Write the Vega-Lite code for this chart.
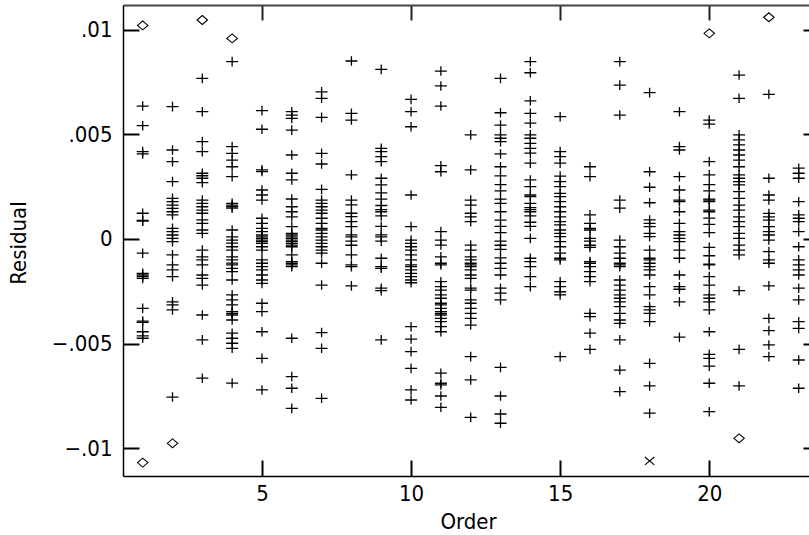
{
  "$schema": "https://vega.github.io/schema/vega-lite/v6.json",
  "width": 686,
  "height": 471,
  "autosize": {"type": "none"},
  "padding": {"left": 123, "top": 5, "right": 0, "bottom": 59},
  "background": "white",
  "config": {
    "view": {"stroke": null},
    "font": "Liberation Sans Narrow, DejaVu Sans Condensed, Arial Narrow, sans-serif"
  },
  "datasets": {
    "plus": [
      {"order":1,"residual":0.00635},{"order":1,"residual":0.00541},{"order":1,"residual":0.00417},{"order":1,"residual":0.00406},{"order":1,"residual":0.00123},{"order":1,"residual":0.00089},{"order":1,"residual":0.00085},{"order":1,"residual":-0.00068},{"order":1,"residual":-0.00164},{"order":1,"residual":-0.00172},{"order":1,"residual":-0.0018},{"order":1,"residual":-0.00188},{"order":1,"residual":-0.00331},{"order":1,"residual":-0.00392},{"order":1,"residual":-0.00398},{"order":1,"residual":-0.00443},{"order":1,"residual":-0.00463},{"order":1,"residual":-0.00474},
      {"order":2,"residual":0.00632},{"order":2,"residual":0.00425},{"order":2,"residual":0.00369},{"order":2,"residual":0.00274},{"order":2,"residual":0.00194},{"order":2,"residual":0.00178},{"order":2,"residual":0.00162},{"order":2,"residual":0.00146},{"order":2,"residual":0.0013},{"order":2,"residual":0.00115},{"order":2,"residual":0.00051},{"order":2,"residual":0.00035},{"order":2,"residual":0.00019},{"order":2,"residual":0.00003},{"order":2,"residual":-0.00013},{"order":2,"residual":-0.00076},{"order":2,"residual":-0.00124},{"order":2,"residual":-0.00148},{"order":2,"residual":-0.0018},{"order":2,"residual":-0.003},{"order":2,"residual":-0.00315},{"order":2,"residual":-0.00339},{"order":2,"residual":-0.00755},
      {"order":3,"residual":0.00767},{"order":3,"residual":0.00608},{"order":3,"residual":0.00465},{"order":3,"residual":0.00417},{"order":3,"residual":0.00314},{"order":3,"residual":0.00302},{"order":3,"residual":0.0029},{"order":3,"residual":0.00269},{"order":3,"residual":0.00186},{"order":3,"residual":0.0017},{"order":3,"residual":0.00154},{"order":3,"residual":0.00138},{"order":3,"residual":0.00123},{"order":3,"residual":0.00091},{"order":3,"residual":0.00075},{"order":3,"residual":0.00043},{"order":3,"residual":0.00027},{"order":3,"residual":-0.00053},{"order":3,"residual":-0.00085},{"order":3,"residual":-0.001},{"order":3,"residual":-0.00124},{"order":3,"residual":-0.00172},{"order":3,"residual":-0.00188},{"order":3,"residual":-0.0022},{"order":3,"residual":-0.00363},{"order":3,"residual":-0.00482},{"order":3,"residual":-0.00665},
      {"order":4,"residual":0.00847},{"order":4,"residual":0.00441},{"order":4,"residual":0.00409},{"order":4,"residual":0.00377},{"order":4,"residual":0.00345},{"order":4,"residual":0.00298},{"order":4,"residual":0.0017},{"order":4,"residual":0.00162},{"order":4,"residual":0.00154},{"order":4,"residual":0.00147},{"order":4,"residual":0.00043},{"order":4,"residual":0.0001},{"order":4,"residual":-0.00005},{"order":4,"residual":-0.0002},{"order":4,"residual":-0.00037},{"order":4,"residual":-0.00053},{"order":4,"residual":-0.00085},{"order":4,"residual":-0.001},{"order":4,"residual":-0.00115},{"order":4,"residual":-0.00124},{"order":4,"residual":-0.0014},{"order":4,"residual":-0.00156},{"order":4,"residual":-0.00196},{"order":4,"residual":-0.00267},{"order":4,"residual":-0.00291},{"order":4,"residual":-0.00315},{"order":4,"residual":-0.00347},{"order":4,"residual":-0.00355},{"order":4,"residual":-0.00363},{"order":4,"residual":-0.00387},{"order":4,"residual":-0.0045},{"order":4,"residual":-0.00474},{"order":4,"residual":-0.00498},{"order":4,"residual":-0.00522},{"order":4,"residual":-0.00688},
      {"order":5,"residual":0.00613},{"order":5,"residual":0.00524},{"order":5,"residual":0.0033},{"order":5,"residual":0.00322},{"order":5,"residual":0.00234},{"order":5,"residual":0.0021},{"order":5,"residual":0.00186},{"order":5,"residual":0.00099},{"order":5,"residual":0.00075},{"order":5,"residual":0.00051},{"order":5,"residual":0.00035},{"order":5,"residual":0.00019},{"order":5,"residual":0.0001},{"order":5,"residual":0.00003},{"order":5,"residual":-0.00005},{"order":5,"residual":-0.00013},{"order":5,"residual":-0.00021},{"order":5,"residual":-0.00037},{"order":5,"residual":-0.00053},{"order":5,"residual":-0.001},{"order":5,"residual":-0.00116},{"order":5,"residual":-0.00132},{"order":5,"residual":-0.00148},{"order":5,"residual":-0.00172},{"order":5,"residual":-0.00196},{"order":5,"residual":-0.00212},{"order":5,"residual":-0.00307},{"order":5,"residual":-0.00347},{"order":5,"residual":-0.00443},{"order":5,"residual":-0.0057},{"order":5,"residual":-0.00721},
      {"order":6,"residual":0.00608},{"order":6,"residual":0.00592},{"order":6,"residual":0.00576},{"order":6,"residual":0.0052},{"order":6,"residual":0.00401},{"order":6,"residual":0.00314},{"order":6,"residual":0.00282},{"order":6,"residual":0.00191},{"order":6,"residual":0.00154},{"order":6,"residual":0.0013},{"order":6,"residual":0.00106},{"order":6,"residual":0.00059},{"order":6,"residual":0.00027},{"order":6,"residual":0.00019},{"order":6,"residual":0.0001},{"order":6,"residual":0.00003},{"order":6,"residual":-0.00005},{"order":6,"residual":-0.00013},{"order":6,"residual":-0.00021},{"order":6,"residual":-0.00029},{"order":6,"residual":-0.00037},{"order":6,"residual":-0.00076},{"order":6,"residual":-0.00108},{"order":6,"residual":-0.00116},{"order":6,"residual":-0.00124},{"order":6,"residual":-0.00132},{"order":6,"residual":-0.00474},{"order":6,"residual":-0.00657},{"order":6,"residual":-0.00713},{"order":6,"residual":-0.00809},
      {"order":7,"residual":0.00703},{"order":7,"residual":0.00672},{"order":7,"residual":0.00581},{"order":7,"residual":0.00409},{"order":7,"residual":0.00358},{"order":7,"residual":0.00237},{"order":7,"residual":0.00186},{"order":7,"residual":0.0017},{"order":7,"residual":0.00154},{"order":7,"residual":0.00138},{"order":7,"residual":0.00123},{"order":7,"residual":0.00099},{"order":7,"residual":0.00075},{"order":7,"residual":0.00051},{"order":7,"residual":0.00043},{"order":7,"residual":0.00027},{"order":7,"residual":0.0001},{"order":7,"residual":-0.00005},{"order":7,"residual":-0.00021},{"order":7,"residual":-0.00037},{"order":7,"residual":-0.00053},{"order":7,"residual":-0.00068},{"order":7,"residual":-0.00116},{"order":7,"residual":-0.0022},{"order":7,"residual":-0.00447},{"order":7,"residual":-0.00522},{"order":7,"residual":-0.00761},
      {"order":8,"residual":0.0085},{"order":8,"residual":0.006},{"order":8,"residual":0.00568},{"order":8,"residual":0.00306},{"order":8,"residual":0.00186},{"order":8,"residual":0.00163},{"order":8,"residual":0.00123},{"order":8,"residual":0.00107},{"order":8,"residual":0.00083},{"order":8,"residual":0.00059},{"order":8,"residual":0.0002},{"order":8,"residual":0.0001},{"order":8,"residual":-0.0001},{"order":8,"residual":-0.0003},{"order":8,"residual":-0.00076},{"order":8,"residual":-0.00124},{"order":8,"residual":-0.00132},{"order":8,"residual":-0.00224},
      {"order":9,"residual":0.0081},{"order":9,"residual":0.00433},{"order":9,"residual":0.00417},{"order":9,"residual":0.00393},{"order":9,"residual":0.00369},{"order":9,"residual":0.0029},{"order":9,"residual":0.00258},{"order":9,"residual":0.0022},{"order":9,"residual":0.0019},{"order":9,"residual":0.0016},{"order":9,"residual":0.0014},{"order":9,"residual":0.0013},{"order":9,"residual":0.0011},{"order":9,"residual":0.0006},{"order":9,"residual":0.0002},{"order":9,"residual":0.0001},{"order":9,"residual":-0.0001},{"order":9,"residual":-0.00092},{"order":9,"residual":-0.00132},{"order":9,"residual":-0.0014},{"order":9,"residual":-0.00235},{"order":9,"residual":-0.00247},{"order":9,"residual":-0.00482},
      {"order":10,"residual":0.00667},{"order":10,"residual":0.00608},{"order":10,"residual":0.00536},{"order":10,"residual":0.0021},{"order":10,"residual":0.00059},{"order":10,"residual":-0.00005},{"order":10,"residual":-0.00021},{"order":10,"residual":-0.00037},{"order":10,"residual":-0.00053},{"order":10,"residual":-0.00076},{"order":10,"residual":-0.001},{"order":10,"residual":-0.00124},{"order":10,"residual":-0.00132},{"order":10,"residual":-0.00148},{"order":10,"residual":-0.00164},{"order":10,"residual":-0.0018},{"order":10,"residual":-0.00196},{"order":10,"residual":-0.00209},{"order":10,"residual":-0.00419},{"order":10,"residual":-0.00478},{"order":10,"residual":-0.00538},{"order":10,"residual":-0.00618},{"order":10,"residual":-0.00721},{"order":10,"residual":-0.00769},
      {"order":11,"residual":0.00802},{"order":11,"residual":0.00731},{"order":11,"residual":0.00635},{"order":11,"residual":0.0035},{"order":11,"residual":0.00321},{"order":11,"residual":0.00035},{"order":11,"residual":-0.00005},{"order":11,"residual":-0.00029},{"order":11,"residual":-0.00085},{"order":11,"residual":-0.00116},{"order":11,"residual":-0.00124},{"order":11,"residual":-0.00204},{"order":11,"residual":-0.00228},{"order":11,"residual":-0.00244},{"order":11,"residual":-0.00267},{"order":11,"residual":-0.00283},{"order":11,"residual":-0.00307},{"order":11,"residual":-0.00315},{"order":11,"residual":-0.00331},{"order":11,"residual":-0.00347},{"order":11,"residual":-0.00355},{"order":11,"residual":-0.00363},{"order":11,"residual":-0.00379},{"order":11,"residual":-0.00395},{"order":11,"residual":-0.00419},{"order":11,"residual":-0.00443},{"order":11,"residual":-0.00641},{"order":11,"residual":-0.00689},{"order":11,"residual":-0.00697},{"order":11,"residual":-0.0075},{"order":11,"residual":-0.00804},
      {"order":12,"residual":0.00497},{"order":12,"residual":0.0033},{"order":12,"residual":0.00186},{"order":12,"residual":0.00162},{"order":12,"residual":0.00123},{"order":12,"residual":0.00106},{"order":12,"residual":0.00083},{"order":12,"residual":-0.00029},{"order":12,"residual":-0.00053},{"order":12,"residual":-0.00085},{"order":12,"residual":-0.001},{"order":12,"residual":-0.00116},{"order":12,"residual":-0.00124},{"order":12,"residual":-0.00132},{"order":12,"residual":-0.00148},{"order":12,"residual":-0.00172},{"order":12,"residual":-0.00188},{"order":12,"residual":-0.00235},{"order":12,"residual":-0.00244},{"order":12,"residual":-0.00291},{"order":12,"residual":-0.00307},{"order":12,"residual":-0.00331},{"order":12,"residual":-0.00355},{"order":12,"residual":-0.00379},{"order":12,"residual":-0.00411},{"order":12,"residual":-0.00562},{"order":12,"residual":-0.00673},{"order":12,"residual":-0.00852},
      {"order":13,"residual":0.00767},{"order":13,"residual":0.00603},{"order":13,"residual":0.00544},{"order":13,"residual":0.00497},{"order":13,"residual":0.00481},{"order":13,"residual":0.00465},{"order":13,"residual":0.00406},{"order":13,"residual":0.00345},{"order":13,"residual":0.00301},{"order":13,"residual":0.0026},{"order":13,"residual":0.0023},{"order":13,"residual":0.0019},{"order":13,"residual":0.0017},{"order":13,"residual":0.0013},{"order":13,"residual":0.0009},{"order":13,"residual":0.0006},{"order":13,"residual":0.0003},{"order":13,"residual":-0.0001},{"order":13,"residual":-0.0003},{"order":13,"residual":-0.0005},{"order":13,"residual":-0.0009},{"order":13,"residual":-0.00116},{"order":13,"residual":-0.0014},{"order":13,"residual":-0.00172},{"order":13,"residual":-0.00235},{"order":13,"residual":-0.00259},{"order":13,"residual":-0.00291},{"order":13,"residual":-0.00613},{"order":13,"residual":-0.0075},{"order":13,"residual":-0.00836},{"order":13,"residual":-0.0088},
      {"order":14,"residual":0.00847},{"order":14,"residual":0.00794},{"order":14,"residual":0.0066},{"order":14,"residual":0.006},{"order":14,"residual":0.00553},{"order":14,"residual":0.00497},{"order":14,"residual":0.00481},{"order":14,"residual":0.00457},{"order":14,"residual":0.00433},{"order":14,"residual":0.0041},{"order":14,"residual":0.00362},{"order":14,"residual":0.00282},{"order":14,"residual":0.0025},{"order":14,"residual":0.0021},{"order":14,"residual":0.00202},{"order":14,"residual":0.0017},{"order":14,"residual":0.0015},{"order":14,"residual":0.0014},{"order":14,"residual":0.0013},{"order":14,"residual":0.0011},{"order":14,"residual":0.0008},{"order":14,"residual":0.0006},{"order":14,"residual":0.00003},{"order":14,"residual":-0.00092},{"order":14,"residual":-0.00108},{"order":14,"residual":-0.00132},{"order":14,"residual":-0.0018},{"order":14,"residual":-0.00228},
      {"order":15,"residual":0.00584},{"order":15,"residual":0.00417},{"order":15,"residual":0.00393},{"order":15,"residual":0.00362},{"order":15,"residual":0.003},{"order":15,"residual":0.00274},{"order":15,"residual":0.0025},{"order":15,"residual":0.00218},{"order":15,"residual":0.00202},{"order":15,"residual":0.00178},{"order":15,"residual":0.00154},{"order":15,"residual":0.0013},{"order":15,"residual":0.00106},{"order":15,"residual":0.00083},{"order":15,"residual":0.00067},{"order":15,"residual":0.00043},{"order":15,"residual":0.00027},{"order":15,"residual":0.00011},{"order":15,"residual":-0.00013},{"order":15,"residual":-0.00037},{"order":15,"residual":-0.00068},{"order":15,"residual":-0.00092},{"order":15,"residual":-0.001},{"order":15,"residual":-0.00204},{"order":15,"residual":-0.00228},{"order":15,"residual":-0.00252},{"order":15,"residual":-0.00267},{"order":15,"residual":-0.00562},
      {"order":16,"residual":0.00345},{"order":16,"residual":0.00298},{"order":16,"residual":0.00115},{"order":16,"residual":0.00075},{"order":16,"residual":0.00051},{"order":16,"residual":0.00043},{"order":16,"residual":0.00003},{"order":16,"residual":-0.0001},{"order":16,"residual":-0.0003},{"order":16,"residual":-0.0004},{"order":16,"residual":-0.00108},{"order":16,"residual":-0.00116},{"order":16,"residual":-0.00132},{"order":16,"residual":-0.00156},{"order":16,"residual":-0.0018},{"order":16,"residual":-0.00204},{"order":16,"residual":-0.00355},{"order":16,"residual":-0.00371},{"order":16,"residual":-0.0045},{"order":16,"residual":-0.00527},
      {"order":17,"residual":0.00847},{"order":17,"residual":0.00735},{"order":17,"residual":0.00592},{"order":17,"residual":0.00186},{"order":17,"residual":0.00147},{"order":17,"residual":-0.00005},{"order":17,"residual":-0.00037},{"order":17,"residual":-0.00068},{"order":17,"residual":-0.00092},{"order":17,"residual":-0.00116},{"order":17,"residual":-0.00124},{"order":17,"residual":-0.00132},{"order":17,"residual":-0.00196},{"order":17,"residual":-0.0022},{"order":17,"residual":-0.00244},{"order":17,"residual":-0.00267},{"order":17,"residual":-0.00283},{"order":17,"residual":-0.003},{"order":17,"residual":-0.00323},{"order":17,"residual":-0.00355},{"order":17,"residual":-0.00387},{"order":17,"residual":-0.00403},{"order":17,"residual":-0.00482},{"order":17,"residual":-0.00626},{"order":17,"residual":-0.00729},
      {"order":18,"residual":0.00699},{"order":18,"residual":0.00321},{"order":18,"residual":0.00247},{"order":18,"residual":0.00173},{"order":18,"residual":0.00091},{"order":18,"residual":0.00075},{"order":18,"residual":0.00059},{"order":18,"residual":0.00027},{"order":18,"residual":0.00011},{"order":18,"residual":-0.00053},{"order":18,"residual":-0.00092},{"order":18,"residual":-0.001},{"order":18,"residual":-0.00116},{"order":18,"residual":-0.00132},{"order":18,"residual":-0.00148},{"order":18,"residual":-0.00172},{"order":18,"residual":-0.00228},{"order":18,"residual":-0.00267},{"order":18,"residual":-0.00323},{"order":18,"residual":-0.00339},{"order":18,"residual":-0.00355},{"order":18,"residual":-0.00395},{"order":18,"residual":-0.00594},{"order":18,"residual":-0.00702},{"order":18,"residual":-0.00832},
      {"order":19,"residual":0.00608},{"order":19,"residual":0.00441},{"order":19,"residual":0.00425},{"order":19,"residual":0.00298},{"order":19,"residual":0.00234},{"order":19,"residual":0.00186},{"order":19,"residual":0.00178},{"order":19,"residual":0.0013},{"order":19,"residual":0.00075},{"order":19,"residual":0.00035},{"order":19,"residual":0.00019},{"order":19,"residual":0.00003},{"order":19,"residual":-0.00013},{"order":19,"residual":-0.00053},{"order":19,"residual":-0.00092},{"order":19,"residual":-0.00172},{"order":19,"residual":-0.00228},{"order":19,"residual":-0.0024},{"order":19,"residual":-0.003},{"order":19,"residual":-0.00469},
      {"order":20,"residual":0.00568},{"order":20,"residual":0.00549},{"order":20,"residual":0.00369},{"order":20,"residual":0.00306},{"order":20,"residual":0.0026},{"order":20,"residual":0.0023},{"order":20,"residual":0.0019},{"order":20,"residual":0.00186},{"order":20,"residual":0.00178},{"order":20,"residual":0.00138},{"order":20,"residual":0.0013},{"order":20,"residual":0.001},{"order":20,"residual":0.0007},{"order":20,"residual":0.0003},{"order":20,"residual":-0.0004},{"order":20,"residual":-0.0008},{"order":20,"residual":-0.0012},{"order":20,"residual":-0.00124},{"order":20,"residual":-0.0018},{"order":20,"residual":-0.0022},{"order":20,"residual":-0.00267},{"order":20,"residual":-0.00283},{"order":20,"residual":-0.003},{"order":20,"residual":-0.00339},{"order":20,"residual":-0.00443},{"order":20,"residual":-0.00551},{"order":20,"residual":-0.0057},{"order":20,"residual":-0.00607},{"order":20,"residual":-0.00689},{"order":20,"residual":-0.00825},
      {"order":21,"residual":0.00783},{"order":21,"residual":0.00672},{"order":21,"residual":0.00497},{"order":21,"residual":0.00473},{"order":21,"residual":0.00449},{"order":21,"residual":0.00425},{"order":21,"residual":0.00401},{"order":21,"residual":0.00377},{"order":21,"residual":0.00345},{"order":21,"residual":0.00306},{"order":21,"residual":0.0029},{"order":21,"residual":0.00274},{"order":21,"residual":0.00258},{"order":21,"residual":0.00226},{"order":21,"residual":0.00194},{"order":21,"residual":0.00162},{"order":21,"residual":0.00138},{"order":21,"residual":0.00106},{"order":21,"residual":0.00083},{"order":21,"residual":0.00059},{"order":21,"residual":0.00027},{"order":21,"residual":0.00003},{"order":21,"residual":-0.00029},{"order":21,"residual":-0.00053},{"order":21,"residual":-0.00076},{"order":21,"residual":-0.00247},{"order":21,"residual":-0.00527},{"order":21,"residual":-0.00702},
      {"order":22,"residual":0.00691},{"order":22,"residual":0.0029},{"order":22,"residual":0.0021},{"order":22,"residual":0.00186},{"order":22,"residual":0.00122},{"order":22,"residual":0.00106},{"order":22,"residual":0.0009},{"order":22,"residual":0.00059},{"order":22,"residual":0.00035},{"order":22,"residual":0.00019},{"order":22,"residual":-0.00005},{"order":22,"residual":-0.0006},{"order":22,"residual":-0.001},{"order":22,"residual":-0.00116},{"order":22,"residual":-0.00224},{"order":22,"residual":-0.00379},{"order":22,"residual":-0.00438},{"order":22,"residual":-0.00506},{"order":22,"residual":-0.00562},
      {"order":23,"residual":0.00338},{"order":23,"residual":0.00314},{"order":23,"residual":0.0029},{"order":23,"residual":0.00178},{"order":23,"residual":0.00115},{"order":23,"residual":0.00099},{"order":23,"residual":0.00083},{"order":23,"residual":0.00035},{"order":23,"residual":-0.00037},{"order":23,"residual":-0.001},{"order":23,"residual":-0.00124},{"order":23,"residual":-0.00148},{"order":23,"residual":-0.00172},{"order":23,"residual":-0.00235},{"order":23,"residual":-0.00291},{"order":23,"residual":-0.00395},{"order":23,"residual":-0.00427},{"order":23,"residual":-0.00578},{"order":23,"residual":-0.00713}
    ],
    "special": [
      {"order":1,"residual":0.0102,"kind":"diamond"},
      {"order":1,"residual":-0.01068,"kind":"diamond"},
      {"order":2,"residual":-0.00976,"kind":"diamond"},
      {"order":3,"residual":0.01046,"kind":"diamond"},
      {"order":4,"residual":0.00958,"kind":"diamond"},
      {"order":20,"residual":0.00982,"kind":"diamond"},
      {"order":21,"residual":-0.00952,"kind":"diamond"},
      {"order":22,"residual":0.01059,"kind":"diamond"},
      {"order":18,"residual":-0.0106,"kind":"x"}
    ]
  },
  "resolve": {"axis": {"x": "independent", "y": "independent"}},
  "layer": [
    {
      "data": {"name": "plus"},
      "mark": {"type": "point", "shape": "M-1,0H1M0,-0.8V0.8", "size": 144, "filled": false, "stroke": "black", "strokeWidth": 1.3, "opacity": 1},
      "encoding": {
        "x": {
          "field": "order", "type": "quantitative",
          "scale": {"domain": [0.34, 23.345], "nice": false, "zero": false},
          "axis": {
            "orient": "bottom", "values": [5, 10, 15, 20], "grid": false,
            "tickSize": -16, "tickWidth": 2, "tickColor": "black",
            "domainColor": "black", "domainWidth": 1.5,
            "labelFontSize": 22, "labelColor": "black", "labelPadding": 23, "labelFlush": false, "labelOverlap": false,
            "title": "Order", "titleFontSize": 22, "titleFontWeight": "normal", "titleColor": "black",
            "titleBaseline": "alphabetic", "titleY": 52, "titleX": 345, "titleAnchor": null, "titleAlign": "center"
          }
        },
        "y": {
          "field": "residual", "type": "quantitative",
          "scale": {"domain": [-0.01132, 0.011175], "nice": false, "zero": false},
          "axis": {
            "orient": "left", "values": [-0.01, -0.005, 0, 0.005, 0.01], "grid": false,
            "tickSize": -16, "tickWidth": 2, "tickColor": "black",
            "domainColor": "black", "domainWidth": 1.5,
            "labelFontSize": 22, "labelColor": "black", "labelPadding": 27, "labelFlush": false, "labelOverlap": false,
            "labelExpr": "datum.value == 0 ? '0' : replace(format(datum.value, '.3~f'), '0.', '.')",
            "title": "Residual", "titleFontSize": 22, "titleFontWeight": "normal", "titleColor": "black",
            "titleAngle": -90, "titleBaseline": "alphabetic", "titleAlign": "center", "titleX": -98, "titleY": 237.5
          }
        }
      }
    },
    {
      "data": {"name": "special"},
      "mark": {"type": "point", "filled": false, "stroke": "black", "strokeWidth": 1.1, "opacity": 1, "size": 110},
      "encoding": {
        "x": {"field": "order", "type": "quantitative", "axis": null},
        "y": {"field": "residual", "type": "quantitative", "axis": null},
        "shape": {
          "field": "kind", "type": "nominal", "legend": null,
          "scale": {"domain": ["diamond", "x"], "range": ["M-1,0L0,-0.85L1,0L0,0.85Z", "M-0.9,-0.75L0.9,0.75M-0.9,0.75L0.9,-0.75"]}
        }
      }
    },
    {
      "data": {"name": "special"},
      "mark": {"type": "point", "opacity": 0},
      "encoding": {
        "x": {
          "field": "order", "type": "quantitative",
          "axis": {
            "orient": "top", "values": [5, 10, 15, 20], "grid": false, "labels": false, "title": null,
            "tickSize": -15, "tickWidth": 2, "tickColor": "#222",
            "domainColor": "#444", "domainWidth": 2.2
          }
        },
        "y": {
          "field": "residual", "type": "quantitative",
          "axis": {
            "orient": "right", "values": [-0.01, -0.005, 0, 0.005, 0.01], "grid": false, "labels": false, "title": null,
            "domain": false, "offset": -6, "tickSize": 16, "tickWidth": 2, "tickColor": "black"
          }
        }
      }
    }
  ]
}
